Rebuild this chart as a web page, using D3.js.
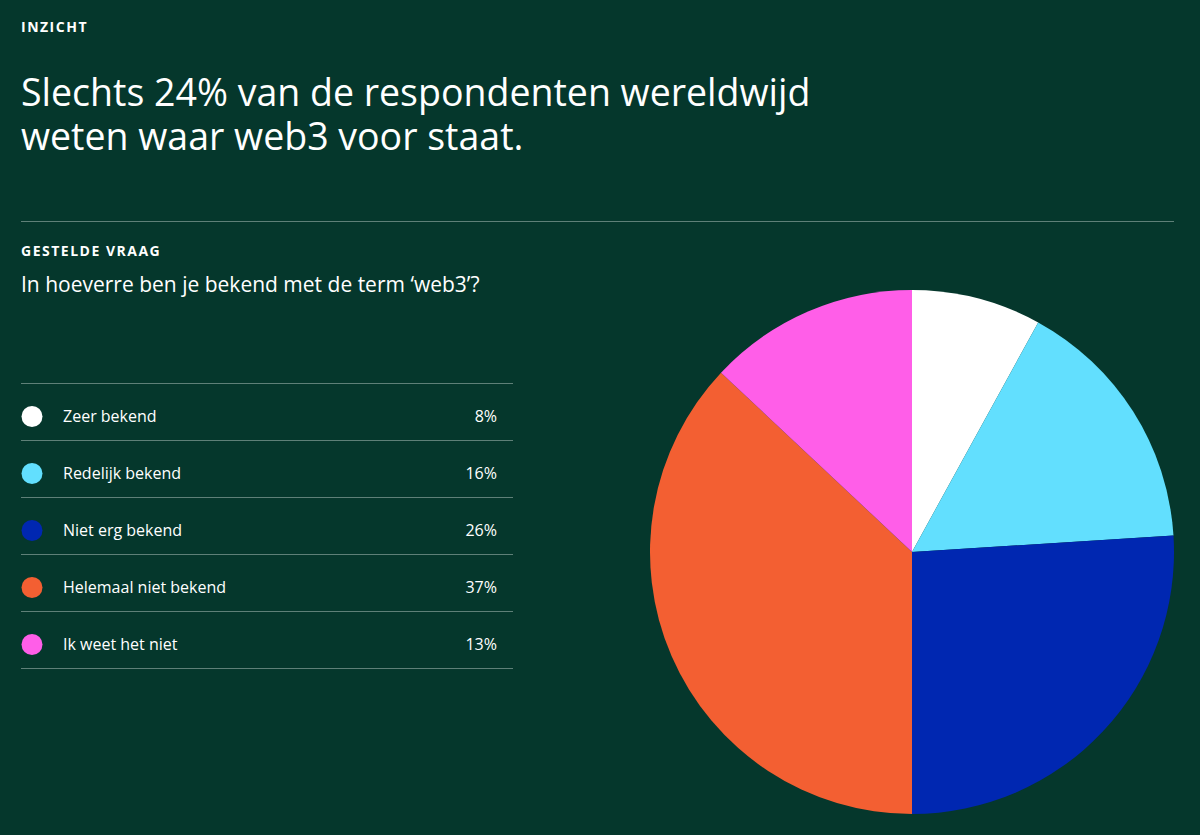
<!DOCTYPE html><html><head><meta charset="utf-8"><script src="https://cdn.jsdelivr.net/npm/d3@7"></script>
<style>body{margin:0;background:#05372c}svg{display:block}text{font-family:"Open Sans",sans-serif;fill:#fff}</style></head><body>
<svg id="c" width="1200" height="835"></svg>
<script>
const categories=["Zeer bekend","Redelijk bekend","Niet erg bekend","Helemaal niet bekend","Ik weet het niet"];
const values=[8,16,26,37,13];
const colors=["#ffffff","#62dffe","#0027b1","#f35f32","#ff5ee8"];
const svg=d3.select("#c");
svg.append("rect").attr("width",1200).attr("height",835).attr("fill","#05372c");
svg.append("text").attr("x",21).attr("y",32).attr("font-size",14).attr("font-weight",700).attr("letter-spacing",1.5).text("INZICHT");
svg.append("text").attr("x",21).attr("y",106).attr("font-size",37.5).text("Slechts 24% van de respondenten wereldwijd");
svg.append("text").attr("x",21).attr("y",150).attr("font-size",37.5).text("weten waar web3 voor staat.");
svg.append("line").attr("x1",21).attr("x2",1174).attr("y1",221.5).attr("y2",221.5).attr("stroke","#5f8078");
svg.append("text").attr("x",21).attr("y",256).attr("font-size",14).attr("font-weight",700).attr("letter-spacing",1.5).text("GESTELDE VRAAG");
svg.append("text").attr("x",21).attr("y",292).attr("font-size",21).text("In hoeverre ben je bekend met de term ‘web3’?");
const y=d3.scaleBand().domain(categories).range([383,668]);
svg.append("line").attr("x1",21).attr("x2",513).attr("y1",383.5).attr("y2",383.5).attr("stroke","#5f8078");
const g=svg.selectAll("g.row").data(categories).join("g").attr("transform",d=>`translate(0,${y(d)})`);
g.append("line").attr("x1",21).attr("x2",513).attr("y1",y.bandwidth()+0.5).attr("y2",y.bandwidth()+0.5).attr("stroke","#5f8078");
g.append("circle").attr("cx",32).attr("cy",y.bandwidth()/2+5).attr("r",10.5).attr("fill",(d,i)=>colors[i]);
g.append("text").attr("x",63).attr("y",y.bandwidth()/2+10).attr("font-size",16).text(d=>d);
g.append("text").attr("x",497).attr("y",y.bandwidth()/2+10).attr("font-size",16).attr("text-anchor","end").text((d,i)=>values[i]+"%");
const pie=d3.pie().sort(null)(values);
const arc=d3.arc().innerRadius(0).outerRadius(262);
svg.append("g").attr("transform","translate(912,552)").selectAll("path").data(pie).join("path").attr("d",arc).attr("fill",(d,i)=>colors[i]);
</script></body></html>
